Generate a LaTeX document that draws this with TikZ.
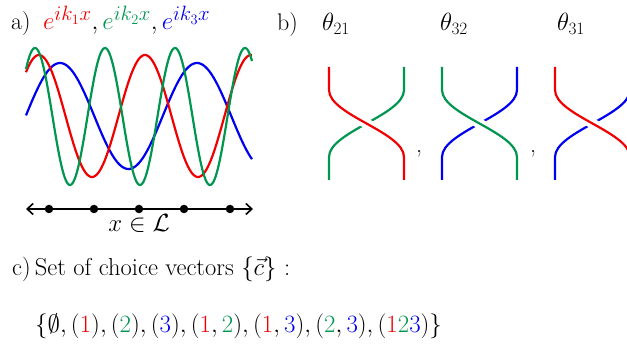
\documentclass[tikz,border=0pt]{standalone}
\usepackage{amsmath}
\usetikzlibrary{arrows.meta,calc}
\definecolor{cred}{RGB}{240,0,0}
\definecolor{cgreen}{RGB}{0,150,80}
\definecolor{cblue}{RGB}{0,0,240}
\tikzset{
  wave/.style={line width=2.2pt},
  strand/.style={line width=2.2pt},
  overstrand/.style={line width=2.2pt, preaction={draw=white, line width=10pt}},
  lbl/.style={inner sep=0pt, anchor=base west, font=\fontsize{24}{28}\selectfont},
  dotnode/.style={circle, fill=black, inner sep=0pt, minimum size=8.5pt},
}
\newcommand\mybraid[4]{% name, x, over colour, under colour
  \coordinate (#1tl) at (#2,67);
  \coordinate (#1tr) at ({#2+75},67);
  \coordinate (#1bl) at (#2,180);
  \coordinate (#1br) at ({#2+75},180);
  \draw[strand,#4] (#1tr) -- ++(0,23) .. controls ++(0,25) and ($(#1bl)+(0,-48)$) .. ($(#1bl)+(0,-23)$) -- (#1bl);
  \draw[overstrand,#3] (#1tl) -- ++(0,23) .. controls ++(0,25) and ($(#1br)+(0,-48)$) .. ($(#1br)+(0,-23)$) -- (#1br);
}
\newcommand\cR[1]{\textcolor{cred}{#1}}
\newcommand\cG[1]{\textcolor{cgreen}{#1}}
\newcommand\cB[1]{\textcolor{cblue}{#1}}
\begin{document}
\begin{tikzpicture}[x=1pt,y=-1pt]
\useasboundingbox (0,0) rectangle (627,344);
\clip (0,0) rectangle (627,344);
% panel a
\node[lbl] (la) at (11,30) {a)};
\node[lbl, font=\fontsize{28}{30}\selectfont] (ea) at (43,30) {$\cR{e^{ik_1x}},\cG{e^{ik_2x}},\cB{e^{ik_3x}}$};
\draw[wave,cblue] plot[domain=26:252, samples=160] (\x, {116 - 53*cos((\x-60)*2.62774)});
\draw[wave,cred] plot[domain=26:252, samples=160] (\x, {116 - 61*cos((\x-39)*3.39623)});
\draw[wave,cgreen] plot[domain=26:252, samples=200] (\x, {116.5 - 68.5*cos((\x-35)*5.142857)});
\coordinate (axL) at (26,209);
\coordinate (axR) at (253,209);
\draw[line width=1.6pt, {Straight Barb[length=6pt,width=11pt]}-{Straight Barb[length=6pt,width=11pt]}] (axL) -- (axR);
\foreach \i/\xx in {1/49,2/94,3/139,4/184,5/230}{
  \node[dotnode] (d\i) at (\xx,209) {};
}
\node[inner sep=0pt, anchor=base, font=\fontsize{27}{30}\selectfont] (xl) at (139,232) {$x\in\mathcal{L}$};
% panel b
\node[lbl] (lb) at (277,31) {b)};
\node[lbl, font=\fontsize{26}{30}\selectfont] (t1) at (322,31) {$\theta_{21}$};
\node[lbl, font=\fontsize{26}{30}\selectfont] (t2) at (440,31) {$\theta_{32}$};
\node[lbl, font=\fontsize{26}{30}\selectfont] (t3) at (557,31) {$\theta_{31}$};
\mybraid{A}{329}{cred}{cgreen}
\mybraid{B}{442}{cgreen}{cblue}
\mybraid{C}{555}{cred}{cblue}
\node[inner sep=0pt, anchor=base, font=\fontsize{24}{28}\selectfont] (c1) at (419,153) {,};
\node[inner sep=0pt, anchor=base, font=\fontsize{24}{28}\selectfont] (c2) at (533,153) {,};
% panel c
\node[lbl, font=\fontsize{24.5}{28}\selectfont] (lc) at (12,276) {c)\,Set of choice vectors $\{\vec{c}\}$ :};
\node[lbl, font=\fontsize{23.5}{28}\selectfont] (set) at (35,333) {$\{\emptyset,(\cR{1}),(\cG{2}),(\cB{3}),(\cR{1},\cG{2}),(\cR{1},\cB{3}),(\cG{2},\cB{3}),(\cR{1}\cG{2}\cB{3})\}$};
\end{tikzpicture}
\end{document}
